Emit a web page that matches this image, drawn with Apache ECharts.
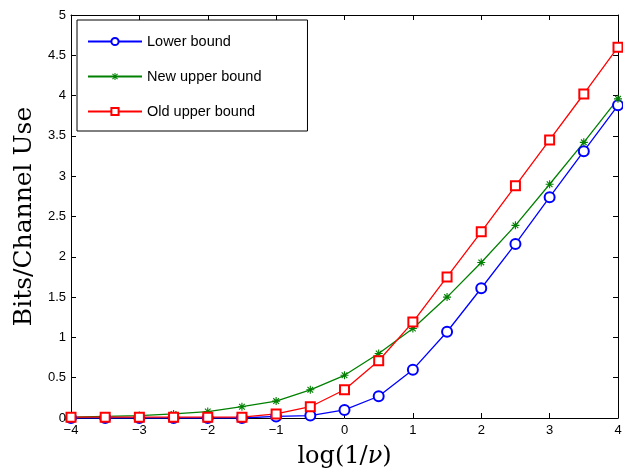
<!DOCTYPE html>
<html><head><meta charset="utf-8">
<script src="https://cdn.jsdelivr.net/npm/echarts@6/dist/echarts.min.js"></script>
<style>html,body{margin:0;padding:0;background:#fff}#c{width:623px;height:472px}</style>
</head><body><div id="c"></div>
<script>
const xValues = [-4,-3.5,-3,-2.5,-2,-1.5,-1,-0.5,0,0.5,1,1.5,2,2.5,3,3.5,4];
const lowerBound = [0.0,0.0,0.0,0.0,0.0,0.0,0.02,0.03,0.10,0.27,0.60,1.07,1.61,2.16,2.74,3.31,3.88];
const newUpper = [0.01,0.02,0.03,0.05,0.08,0.14,0.21,0.35,0.53,0.80,1.11,1.50,1.93,2.39,2.90,3.42,3.96];
const oldUpper = [0.01,0.01,0.01,0.01,0.01,0.01,0.05,0.14,0.35,0.71,1.19,1.75,2.31,2.88,3.45,4.02,4.60];
const seriesNames = ['Lower bound','New upper bound','Old upper bound'];
const xTicks = {min:-4,max:4,interval:1};
const yTicks = {min:0,max:5,interval:0.5};

const star = 'path://M-5,-0.7L5,-0.7L5,0.7L-5,0.7Z M0.7,-5L0.7,5L-0.7,5L-0.7,-5Z M-3.04,-4.04L4.04,3.04L3.04,4.04L-4.04,-3.04Z M4.04,-3.04L-3.04,4.04L-4.04,3.04L3.04,-4.04Z';

function pairs(ys){ return xValues.map((x,i)=>[x,ys[i]]); }
const chart = echarts.init(document.getElementById('c'));
const tickLbl = {color:'#000', fontSize:13, fontFamily:'Liberation Sans, Arial, sans-serif',
  formatter:v=>String(v).replace('-','\u2212')};
const line = {show:true,onZero:false,lineStyle:{color:'#000',width:1}};
const tick = {inside:true,length:5,lineStyle:{color:'#000'}};
const serif = 'DejaVu Serif, serif';
chart.setOption({
  animation:false,
  backgroundColor:'#fff',
  grid:{left:71,right:5,top:15,bottom:54,containLabel:false,outerBoundsMode:'none',show:false},
  xAxis:[
    {type:'value',min:xTicks.min,max:xTicks.max,interval:xTicks.interval,position:'bottom',
     axisLine:line,axisTick:tick,
     splitLine:{show:false},axisLabel:Object.assign({margin:6},tickLbl),
     name:'{a|log(1/}{b|ν}{a|)}',nameLocation:'middle',nameGap:27,
     nameTextStyle:{rich:{a:{fontSize:24,fontFamily:serif,color:'#000'},b:{fontSize:24,fontStyle:'italic',fontFamily:serif,color:'#000'}}}},
    {type:'value',min:xTicks.min,max:xTicks.max,interval:xTicks.interval,position:'top',
     axisLine:line,axisTick:tick,
     splitLine:{show:false},axisLabel:{show:false}}
  ],
  yAxis:[
    {type:'value',min:yTicks.min,max:yTicks.max,interval:yTicks.interval,position:'left',
     axisLine:line,axisTick:tick,
     splitLine:{show:false},axisLabel:Object.assign({margin:5},tickLbl),
     name:'Bits/Channel Use',nameLocation:'middle',nameGap:31,
     nameTextStyle:{fontSize:25,fontFamily:serif,color:'#000'}},
    {type:'value',min:yTicks.min,max:yTicks.max,interval:yTicks.interval,position:'right',
     axisLine:line,axisTick:tick,
     splitLine:{show:false},axisLabel:{show:false}}
  ],
  legend:{
    orient:'vertical',left:77,top:20,
    backgroundColor:'#fff',borderColor:'#000',borderWidth:1,borderRadius:0,
    padding:[14,46,12,10],itemGap:20,itemWidth:54,itemHeight:9,
    textStyle:{fontSize:14.5,fontFamily:'Liberation Sans, Arial, sans-serif',color:'#000'},
    data:seriesNames
  },
  series:[
    {name:seriesNames[0],type:'line',data:pairs(lowerBound),color:'#0000ff',
     symbol:'emptyCircle',symbolSize:10,lineStyle:{width:1.3,color:'#0000ff'},
     itemStyle:{color:'#0000ff',borderWidth:1.3}},
    {name:seriesNames[1],type:'line',data:pairs(newUpper),color:'#008000',
     symbol:star,symbolSize:8,lineStyle:{width:1.3,color:'#008000'},
     itemStyle:{color:'#008000'}},
    {name:seriesNames[2],type:'line',data:pairs(oldUpper),color:'#ff0000',
     symbol:'emptyRect',symbolSize:9,lineStyle:{width:1.3,color:'#ff0000'},
     itemStyle:{color:'#ff0000',borderWidth:1.3}}
  ]
});
</script></body></html>
